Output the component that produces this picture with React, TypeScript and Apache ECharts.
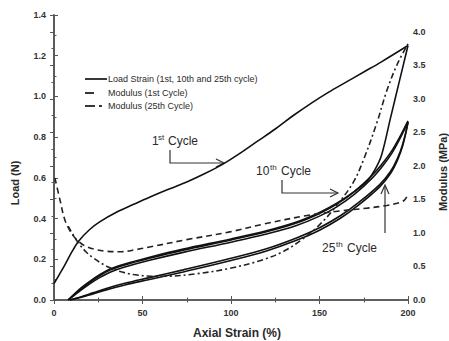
import React, { useEffect, useRef } from 'react';
import * as echarts from 'echarts';

// ---- Data ----
// Load (N) vs axial strain (%)
const strain1stLoad = [0, 3, 6, 10, 14, 20, 26, 35, 45, 54, 65, 75, 85, 95, 105, 115, 125, 135, 145, 155, 165, 175, 185, 200];
const load1stLoad = [0.08, 0.125, 0.17, 0.235, 0.29, 0.345, 0.385, 0.43, 0.47, 0.505, 0.545, 0.58, 0.62, 0.665, 0.72, 0.78, 0.84, 0.905, 0.965, 1.02, 1.07, 1.12, 1.17, 1.25];

const strain1stUnload = [8, 14, 20, 26, 32, 40, 54, 73, 100, 120, 137, 150, 160, 170, 177, 181, 185, 190, 195, 200];
const load1stUnload = [0, 0.05, 0.09, 0.125, 0.153, 0.177, 0.21, 0.25, 0.3, 0.34, 0.383, 0.43, 0.477, 0.535, 0.585, 0.635, 0.71, 0.89, 1.07, 1.25];

const strainUpper = [8, 14, 20, 26, 32, 40, 54, 73, 100, 120, 137, 150, 160, 170, 180, 186, 191, 195, 200];
const load10thLoad = [0, 0.045, 0.085, 0.12, 0.148, 0.172, 0.205, 0.245, 0.295, 0.335, 0.378, 0.425, 0.472, 0.535, 0.615, 0.675, 0.735, 0.795, 0.88];
const load25thLoad = [0, 0.04, 0.078, 0.111, 0.138, 0.162, 0.195, 0.234, 0.284, 0.324, 0.366, 0.412, 0.459, 0.521, 0.601, 0.662, 0.723, 0.785, 0.875];

const strainLower = [9, 15, 22, 30, 40, 54, 73, 100, 120, 137, 150, 162, 172, 184, 190, 194, 197, 200];
const load10thUnload = [0, 0.015, 0.035, 0.058, 0.082, 0.11, 0.148, 0.205, 0.252, 0.305, 0.355, 0.415, 0.478, 0.567, 0.63, 0.695, 0.765, 0.875];
const load25thUnload = [0, 0.012, 0.03, 0.051, 0.074, 0.101, 0.138, 0.194, 0.241, 0.293, 0.343, 0.403, 0.466, 0.556, 0.62, 0.686, 0.757, 0.87];

// Modulus (MPa) vs axial strain (%)
const strainMod1st = [0.5, 3.4, 6.2, 10, 14, 18, 24, 30, 38, 46, 54, 75, 100, 118, 143, 162, 177, 188, 195, 198, 200];
const modulus1st = [1.82, 1.49, 1.19, 0.99, 0.87, 0.8, 0.75, 0.725, 0.72, 0.75, 0.79, 0.9, 1.02, 1.13, 1.26, 1.33, 1.37, 1.41, 1.45, 1.49, 1.57];

const strainMod25th = [8, 13, 18, 22, 30, 38, 45, 55, 64, 80, 99, 118, 130, 140, 150, 160, 169, 175, 182.5, 188, 194, 200];
const modulus25th = [1.1, 0.88, 0.72, 0.63, 0.5, 0.42, 0.38, 0.355, 0.355, 0.39, 0.47, 0.6, 0.73, 0.9, 1.12, 1.42, 1.75, 2.1, 2.65, 3.12, 3.52, 3.82];

// Axis ranges / ticks
const strainMin = 0, strainMax = 200, strainStep = 50;
const loadMin = 0, loadMax = 1.4, loadStep = 0.2;
const modMin = 0, modMax = 4.25, modStep = 0.5;

const legendLabels = ['Load Strain (1st, 10th and 25th cycle)', 'Modulus (1st Cycle)', 'Modulus (25th Cycle)'];

const zip = (xs: number[], ys: number[]) => xs.map((x, i) => [x, ys[i]]);

const FONT = 'Liberation Sans, Arial, sans-serif';
const AXIS_COLOR = '#555';
const TEXT_COLOR = '#2a2a2a';

export default function App() {
  const ref = useRef<HTMLDivElement>(null);

  useEffect(() => {
    if (!ref.current) return;
    const chart = echarts.init(ref.current, undefined, { renderer: 'svg' });

    const loadLine = (name: string, xs: number[], ys: number[]) => ({
      name,
      type: 'line',
      xAxisIndex: 0,
      yAxisIndex: 0,
      data: zip(xs, ys),
      symbol: 'none',
      smooth: 0.35,
      lineStyle: { color: '#111', width: 1.6, type: 'solid' },
      silent: true,
    });

    const axisCommon = {
      axisLine: { show: true, lineStyle: { color: AXIS_COLOR, width: 1.6 } },
      axisTick: { show: true, inside: true, length: 4, lineStyle: { color: AXIS_COLOR, width: 1 } },
      minorTick: { show: true, splitNumber: 2, length: 2.5, lineStyle: { color: AXIS_COLOR, width: 1 } },
      splitLine: { show: false },
    };
    const labelStyle = { color: '#333', fontSize: 9, fontWeight: 'bold', fontFamily: FONT };

    const arrowStyle = { stroke: '#333', lineWidth: 1.2, fill: 'none' };
    const annText = (x: number, y: number, text: string, size: number) => ({
      type: 'text', x, y,
      style: { text, fill: TEXT_COLOR, font: `${size}px ${FONT}`, textVerticalAlign: 'middle' },
    });

    chart.setOption({
      animation: false,
      backgroundColor: '#fff',
      grid: { left: 54, top: 15, right: 41, bottom: 41, containLabel: false },
      xAxis: [
        {
          type: 'value', min: strainMin, max: strainMax, interval: strainStep, position: 'bottom',
          ...axisCommon,
          axisLabel: { ...labelStyle, margin: 8, formatter: (v: number) => String(v) },
        },
        {
          type: 'value', min: strainMin, max: strainMax, interval: strainStep, position: 'top',
          ...axisCommon,
          axisLabel: { show: false },
        },
      ],
      yAxis: [
        {
          type: 'value', min: loadMin, max: loadMax, interval: loadStep, position: 'left',
          ...axisCommon,
          axisLabel: { ...labelStyle, margin: 8, formatter: (v: number) => v.toFixed(1) },
        },
        {
          type: 'value', min: modMin, max: modMax, interval: modStep, position: 'right',
          ...axisCommon,
          axisLabel: { ...labelStyle, margin: 5, formatter: (v: number) => (v > 4.1 ? '' : v.toFixed(1)) },
        },
      ],
      series: [
        loadLine('1st load', strain1stLoad, load1stLoad),
        loadLine('1st unload', strain1stUnload, load1stUnload),
        loadLine('10th load', strainUpper, load10thLoad),
        loadLine('25th load', strainUpper, load25thLoad),
        loadLine('10th unload', strainLower, load10thUnload),
        loadLine('25th unload', strainLower, load25thUnload),
        {
          name: legendLabels[1], type: 'line', xAxisIndex: 0, yAxisIndex: 1,
          data: zip(strainMod1st, modulus1st), symbol: 'none', smooth: 0.35,
          lineStyle: { color: '#222', width: 1.6, type: [6, 4] }, silent: true,
        },
        {
          name: legendLabels[2], type: 'line', xAxisIndex: 0, yAxisIndex: 1,
          data: zip(strainMod25th, modulus25th), symbol: 'none', smooth: 0.35,
          lineStyle: { color: '#222', width: 1.6, type: [6, 3, 2, 3] }, silent: true,
        },
      ],
      graphic: [
        // axis titles
        {
          type: 'text', x: 15, y: 183, rotation: Math.PI / 2,
          style: { text: 'Load (N)', fill: TEXT_COLOR, font: `bold 11px ${FONT}`, textAlign: 'center', textVerticalAlign: 'middle' },
        },
        {
          type: 'text', x: 443, y: 172, rotation: Math.PI / 2,
          style: { text: 'Modulus (MPa)', fill: TEXT_COLOR, font: `bold 11px ${FONT}`, textAlign: 'center', textVerticalAlign: 'middle' },
        },
        {
          type: 'text', x: 237, y: 333,
          style: { text: 'Axial Strain (%)', fill: TEXT_COLOR, font: `bold 12px ${FONT}`, textAlign: 'center', textVerticalAlign: 'middle' },
        },
        // legend
        { type: 'line', shape: { x1: 85, y1: 79, x2: 107, y2: 79 }, style: { stroke: '#222', lineWidth: 1.8 } },
        { type: 'line', shape: { x1: 85, y1: 93, x2: 94, y2: 93 }, style: { stroke: '#222', lineWidth: 1.8 } },
        { type: 'line', shape: { x1: 85, y1: 106, x2: 95, y2: 106 }, style: { stroke: '#222', lineWidth: 1.8 } },
        { type: 'line', shape: { x1: 99, y1: 106, x2: 102, y2: 106 }, style: { stroke: '#222', lineWidth: 1.8 } },
        annText(108, 79, legendLabels[0], 9),
        annText(108, 93, legendLabels[1], 9),
        annText(108, 106, legendLabels[2], 9),
        // "1st Cycle"
        annText(152, 141, '1', 12),
        annText(158, 137, 'st', 8),
        annText(168, 141, 'Cycle', 12),
        { type: 'polyline', shape: { points: [[170, 150], [170, 163], [223, 163]] }, style: arrowStyle },
        { type: 'polyline', shape: { points: [[216, 159], [224, 163], [216, 167]] }, style: arrowStyle },
        // "10th Cycle"
        annText(256, 171, '10', 12),
        annText(270, 167, 'th', 8),
        annText(281, 171, 'Cycle', 12),
        { type: 'polyline', shape: { points: [[282, 180], [282, 193], [337, 193]] }, style: arrowStyle },
        { type: 'polyline', shape: { points: [[330, 189], [338, 193], [330, 197]] }, style: arrowStyle },
        // "25th Cycle"
        annText(322, 248, '25', 12),
        annText(336, 244, 'th', 8),
        annText(347, 248, 'Cycle', 12),
        { type: 'line', shape: { x1: 385, y1: 233, x2: 385, y2: 186 }, style: { stroke: '#333', lineWidth: 1.2 } },
        { type: 'polyline', shape: { points: [[381, 194], [385, 185], [389, 194]] }, style: arrowStyle },
      ],
    });

    return () => chart.dispose();
  }, []);

  return <div ref={ref} style={{ position: 'fixed', left: 0, top: 0, width: 449, height: 341 }} />;
}
